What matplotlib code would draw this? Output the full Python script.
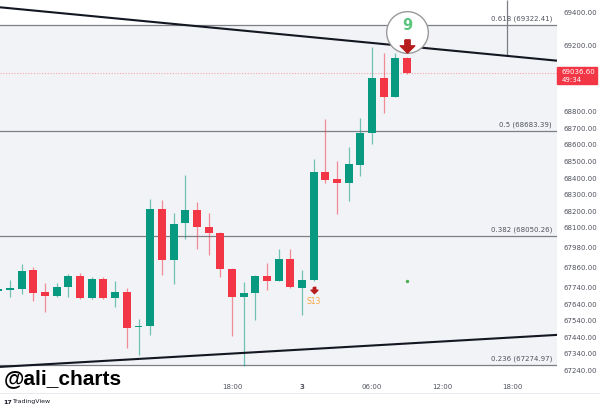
import numpy as np
import matplotlib
matplotlib.use("Agg")
import matplotlib.pyplot as plt
from matplotlib.path import Path
from matplotlib.patches import Rectangle
import matplotlib.transforms as mtransforms

plt.rcParams['font.family'] = ['DejaVu Sans']

# hourly BTC candles, index 0 = 22:00 of day 2
opens = [67719, 67727, 67729, 67844, 67711, 67691, 67741, 67811, 67675, 67790,
         67675, 67715, 67500, 67510, 68212, 67906, 68127, 68208, 68103, 68071,
         67852, 67681, 67705, 67811, 67781, 67914, 67735, 67785, 68435, 68396,
         68369, 68479, 68670, 69006, 68891, 69123]
highs = [67722, 67785, 67882, 67866, 67769, 67769, 67822, 67826, 67802, 67802,
         67779, 67735, 67548, 68272, 68268, 68188, 68419, 68258, 68191, 68075,
         67855, 67775, 67815, 67886, 67971, 67971, 67846, 68515, 68756, 68505,
         68586, 68761, 69189, 69156, 69155, 69130]
lows = [67716, 67685, 67701, 67659, 67594, 67681, 67685, 67672, 67672, 67672,
        67624, 67375, 67333, 67454, 67816, 67761, 68031, 67971, 67936, 67802,
        67449, 67267, 67544, 67725, 67778, 67738, 67574, 67780, 68372, 68182,
        68262, 68414, 68604, 68791, 68888, 69030]
closes = [67720, 67731, 67840, 67709, 67691, 67741, 67810, 67675, 67790, 67675,
          67715, 67498, 67510, 68212, 67906, 68123, 68208, 68103, 68071, 67852,
          67681, 67705, 67811, 67781, 67914, 67741, 67785, 68435, 68389, 68369,
          68483, 68670, 69006, 68887, 69123, 69036.6]

fib_levels = ["0.618", "0.5", "0.382", "0.236"]
fib_prices = [69322.41, 68683.39, 68050.26, 67274.97]

# wedge trendlines (x in candle index)
upper_x = [0.142, 47.83]
upper_y = [69430, 69108]
lower_x = [0.142, 47.83]
lower_y = [67261, 67454]

time_ticks = [20, 26, 32, 38, 44]
time_labels = ["18:00", "3", "06:00", "12:00", "18:00"]
price_ticks = [69400, 69200, 68800, 68700, 68600, 68500, 68400, 68300, 68200, 68100,
               67980, 67860, 67740, 67640, 67540, 67440, 67340, 67240]

last_price = 69036.60
countdown = "49:34"
td_count = "9"
td_bar = 35
setup_bar = 27
setup_label = "S13"
dot_x = [35]
dot_y = [67781]
cursor_x = 43.55

GREEN = "#089981"
RED = "#f23645"

fig = plt.figure(figsize=(6, 4.08), dpi=100)
ax = fig.add_axes([0, 1 - 378 / 408, 557 / 600, 378 / 408])
ax.set_facecolor("white")
ax.set_xlim(0.142, 47.83)
ax.set_ylim(67194, 69474)

# shaded fib zone
ax.axhspan(fib_prices[3], fib_prices[0], color="#f2f3f6", zorder=0, lw=0)
for lvl, p in zip(fib_levels, fib_prices):
    ax.axhline(p, color="#7d7f86", lw=0.9, zorder=1)
    ax.annotate("{} ({:.2f})".format(lvl, p), xy=(47.4, p), xytext=(0, 2),
                textcoords="offset points", ha="right", va="bottom",
                fontsize=5, color="#50535e")

# current price line
ax.axhline(last_price, color="#f4a6a6", lw=0.8, ls=(0, (1, 1.5)), zorder=1)

# candles
idx = np.arange(len(opens))
o = np.array(opens)
c = np.array(closes)
colors = [GREEN if cc >= oo else RED for oo, cc in zip(o, c)]
ax.vlines(idx, lows, highs, colors=colors, lw=0.9, alpha=0.55, zorder=3)
body_lo = np.minimum(o, c)
body_h = np.maximum(np.abs(c - o), 9)
ax.bar(idx, body_h, bottom=body_lo, width=0.68, color=colors, zorder=4, lw=0)

# trendlines
ax.plot(upper_x, upper_y, color="#131722", lw=1.5, zorder=5, solid_capstyle="butt")
ax.plot(lower_x, lower_y, color="#131722", lw=1.5, zorder=5, solid_capstyle="butt")

# vertical cursor line down to upper trendline
ax.vlines(cursor_x, np.interp(cursor_x, upper_x, upper_y), 69474,
          color="#7d7f86", lw=0.9, zorder=2)

ax.scatter(dot_x, dot_y, s=2, color="#4caf50", zorder=4)

# TD sequential markers
arrow = Path([(-0.4, 1), (0.4, 1), (0.4, 0.1), (1.1, 0.1), (0, -1),
              (-1.1, 0.1), (-0.4, 0.1), (-0.4, 1)])
circ_tr = mtransforms.offset_copy(ax.transData, fig, x=0, y=18, units="points")
ax.plot([td_bar], [highs[td_bar]], marker="o", ms=30, mfc="white", mec="#9a9a9a",
        mew=1.0, transform=circ_tr, zorder=6)
txt_tr = mtransforms.offset_copy(ax.transData, fig, x=0, y=23, units="points")
ax.text(td_bar, highs[td_bar], td_count, transform=txt_tr, ha="center", va="center",
        fontsize=10.5, fontweight="bold", color="#5ac47c", zorder=7)
arr_tr = mtransforms.offset_copy(ax.transData, fig, x=0, y=8, units="points")
ax.plot([td_bar], [highs[td_bar]], marker=arrow, ms=10.5, color="#b71c1c",
        transform=arr_tr, zorder=7, lw=0)

s_tr = mtransforms.offset_copy(ax.transData, fig, x=0, y=-6.7, units="points")
ax.plot([setup_bar], [lows[setup_bar]], marker=arrow, ms=5, color="#b71c1c",
        transform=s_tr, zorder=7, lw=0)
st_tr = mtransforms.offset_copy(ax.transData, fig, x=0, y=-15, units="points")
ax.text(setup_bar, lows[setup_bar], setup_label, transform=st_tr, ha="center",
        va="center", fontsize=5.5, color="#f5a742", zorder=7)

# axes
for s in ax.spines.values():
    s.set_visible(False)
ax.yaxis.tick_right()
ax.set_yticks(price_ticks)
ax.set_yticklabels(["{:.2f}".format(v) for v in price_ticks])
ax.set_xticks(time_ticks)
ax.set_xticklabels(time_labels)
ax.tick_params(axis="y", length=0, pad=5, labelsize=5, labelcolor="#50535e")
ax.tick_params(axis="x", length=0, pad=4.5, labelsize=5, labelcolor="#50535e")
ax.get_xticklabels()[1].set_fontweight("bold")

# price badge on the scale
fig.patches.append(Rectangle((557 / 600, 1 - 84 / 408), 40 / 600, 17 / 408,
                             transform=fig.transFigure, color=RED, zorder=10))
fig.text(562 / 600, 1 - 71.7 / 408, "{:.2f}".format(last_price), ha="left",
         va="center", fontsize=5, color="white", zorder=11)
fig.text(562 / 600, 1 - 79.5 / 408, countdown, ha="left", va="center",
         fontsize=5, color="white", zorder=11)

fig.add_artist(plt.Line2D([0, 1], [1 - 393 / 408] * 2, transform=fig.transFigure,
                          color="#e6e8ee", lw=0.6))

fig.text(4 / 600, 1 - 379 / 408, "@ali_charts", ha="left", va="center",
         fontsize=15, fontweight="bold", family="Liberation Sans", color="black",
         zorder=12)
fig.text(3 / 600, 1 - 402 / 408, "17", ha="left", va="center", fontsize=4.5,
         fontweight="bold", color="#131722")
fig.text(13 / 600, 1 - 402 / 408, "TradingView", ha="left", va="center",
         fontsize=4.5, color="#131722")

fig.savefig("out.png", dpi=100)
